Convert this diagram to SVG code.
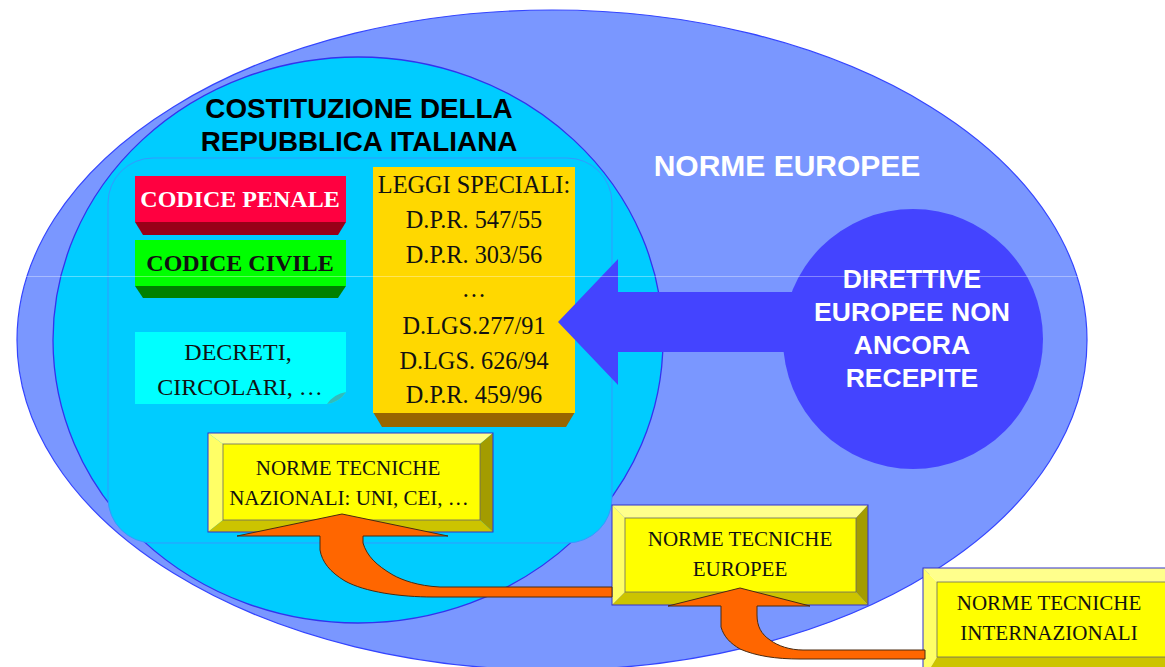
<svg xmlns="http://www.w3.org/2000/svg" width="1165" height="667" viewBox="0 0 1165 667">
<style>
.sans{font-family:"Liberation Sans",Arial,sans-serif;font-weight:bold;text-anchor:middle}
.serif{font-family:"Liberation Serif","Times New Roman",serif;text-anchor:middle;fill:#111}
.face{fill:#FFFF00;stroke:#666;stroke-width:0.8}
.bt{fill:#FFFF8C}
.bl{fill:#FFFF66}
.br{fill:#A39C00}
.bb{fill:#CCC400}
.outer{fill:none;stroke:#3333CC;stroke-width:1}
.orange{fill:#FF6600;stroke:#4A2A10;stroke-width:1}
.blue{fill:#4444FF}
</style>
<rect width="1165" height="667" fill="#FFFFFF"/>
<g id="norme-europee">
<ellipse cx="552" cy="340" rx="535" ry="330" fill="#7A97FF" stroke="#3344FF" stroke-width="1.2"/>
<text class="sans" x="787" y="176" font-size="30" fill="#FFFFFF">NORME EUROPEE</text>
</g>
<g id="costituzione">
<ellipse cx="358" cy="340" rx="305" ry="283" fill="#00CCFF" stroke="#3333EE" stroke-width="1.3"/>
<rect x="108" y="158" width="504" height="385" rx="45" fill="#00CCFF" stroke="#3399FF" stroke-width="1"/>
<text class="sans" x="359" y="118" font-size="27.8" fill="#000">COSTITUZIONE DELLA</text>
<text class="sans" x="359" y="151" font-size="27.8" fill="#000">REPUBBLICA ITALIANA</text>
</g>
<g id="codice-penale">
<polygon points="135,222 346,222 338,235 143,235" fill="#990018"/>
<rect x="135" y="176" width="211" height="46" fill="#FF0040"/>
<text class="serif" x="240" y="207" font-size="24" font-weight="bold" style="fill:#FFFFFF">CODICE PENALE</text>
</g>
<g id="codice-civile">
<polygon points="135,286 346,286 338,298 143,298" fill="#008000"/>
<rect x="135" y="240" width="211" height="46" fill="#00FF00"/>
<text class="serif" x="240" y="271" font-size="24" font-weight="bold">CODICE CIVILE</text>
</g>
<g id="decreti">
<path d="M135,332 H346 V392 Q340,402 327,404 H135 Z" fill="#00FFFF"/>
<path d="M346,392 Q334,394 327,404 Q340,402 346,392 Z" fill="#33BBBB"/>
<text class="serif" x="238" y="360" font-size="24">DECRETI,</text>
<text class="serif" x="240" y="395" font-size="24">CIRCOLARI, …</text>
</g>
<g id="leggi-speciali">
<polygon points="373,412 575,412 566,427 382,427" fill="#996600"/>
<rect x="373" y="167" width="202" height="246" fill="#FFD800"/>
<text class="serif" x="474" y="193" font-size="24.3">LEGGI SPECIALI:</text>
<text class="serif" x="474" y="228" font-size="24.3">D.P.R. 547/55</text>
<text class="serif" x="474" y="263" font-size="24.3">D.P.R. 303/56</text>
<text class="serif" x="474" y="297" font-size="24.3">…</text>
<text class="serif" x="474" y="334" font-size="24.3">D.LGS.277/91</text>
<text class="serif" x="474" y="369" font-size="24.3">D.LGS. 626/94</text>
<text class="serif" x="474" y="403" font-size="24.3">D.P.R. 459/96</text>
</g>
<g id="direttive">
<circle cx="913" cy="339" r="130" class="blue"/>
<text class="sans" x="912" y="288" font-size="26.5" fill="#FFFFFF">DIRETTIVE</text>
<text class="sans" x="912" y="321" font-size="26.5" fill="#FFFFFF">EUROPEE NON</text>
<text class="sans" x="912" y="354" font-size="26.5" fill="#FFFFFF">ANCORA</text>
<text class="sans" x="912" y="387" font-size="26.5" fill="#FFFFFF">RECEPITE</text>
</g>
<g id="nt-nazionali">
<polygon class="bt" points="208,433 493,433 480,444 223,444"/>
<polygon class="bl" points="208,433 223,444 223,520 208,532"/>
<polygon class="br" points="493,433 493,532 480,520 480,444"/>
<polygon class="bb" points="208,532 223,520 480,520 493,532"/>
<rect class="face" x="223" y="444" width="257" height="76"/>
<rect class="outer" x="208" y="433" width="285" height="99"/>
<text class="serif" x="348" y="475" font-size="21">NORME TECNICHE</text>
<text class="serif" x="349" y="505" font-size="21">NAZIONALI: UNI, CEI, …</text>
</g>
<g id="nt-europee">
<polygon class="bt" points="612,505 868,505 856,518 625,518"/>
<polygon class="bl" points="612,505 625,518 625,592 612,605"/>
<polygon class="br" points="868,505 868,605 856,592 856,518"/>
<polygon class="bb" points="612,605 625,592 856,592 868,605"/>
<rect class="face" x="625" y="518" width="231" height="74"/>
<rect class="outer" x="612" y="505" width="256" height="100"/>
<text class="serif" x="740" y="546" font-size="21">NORME TECNICHE</text>
<text class="serif" x="740" y="576" font-size="21">EUROPEE</text>
</g>
<g id="nt-internazionali">
<polygon class="bt" points="923,568 1180,568 1167,582 937,582"/>
<polygon class="bl" points="923,568 937,582 937,657 923,680"/>
<polygon class="bb" points="923,680 937,657 1167,657 1180,680"/>
<rect class="face" x="937" y="582" width="240" height="75"/>
<rect class="outer" x="923" y="568" width="257" height="112"/>
<text class="serif" x="1049" y="610" font-size="21">NORME TECNICHE</text>
<text class="serif" x="1049" y="640" font-size="21">INTERNAZIONALI</text>
</g>
<g id="connectors">
<path class="blue" d="M558,322 L618,259 L618,292 L800,292 L800,352 L618,352 L618,385 Z"/>
<path class="orange" d="M612,587 L440,587 C418,586 402,580 393,575 C376,565 367,556 363,543 L363,536 L448,536 L342,514 L237,536 L320,536 L320,550 C322,562 330,572 345,581 C365,592 400,597 433,597 L612,597 Z"/>
<path class="orange" d="M925,650 L803,650 C790,650 778,646 770,640 C761,634 757,626 757,615 L757,606 L810,606 L740,588 L668,606 L721,606 L721,627 C724,637 730,643 740,649 C756,656 776,659 800,659 L925,659 Z"/>
</g>
<line x1="17" y1="276.5" x2="1087" y2="276.5" stroke="#FFFFFF" stroke-opacity="0.35" stroke-width="1"/>
</svg>
